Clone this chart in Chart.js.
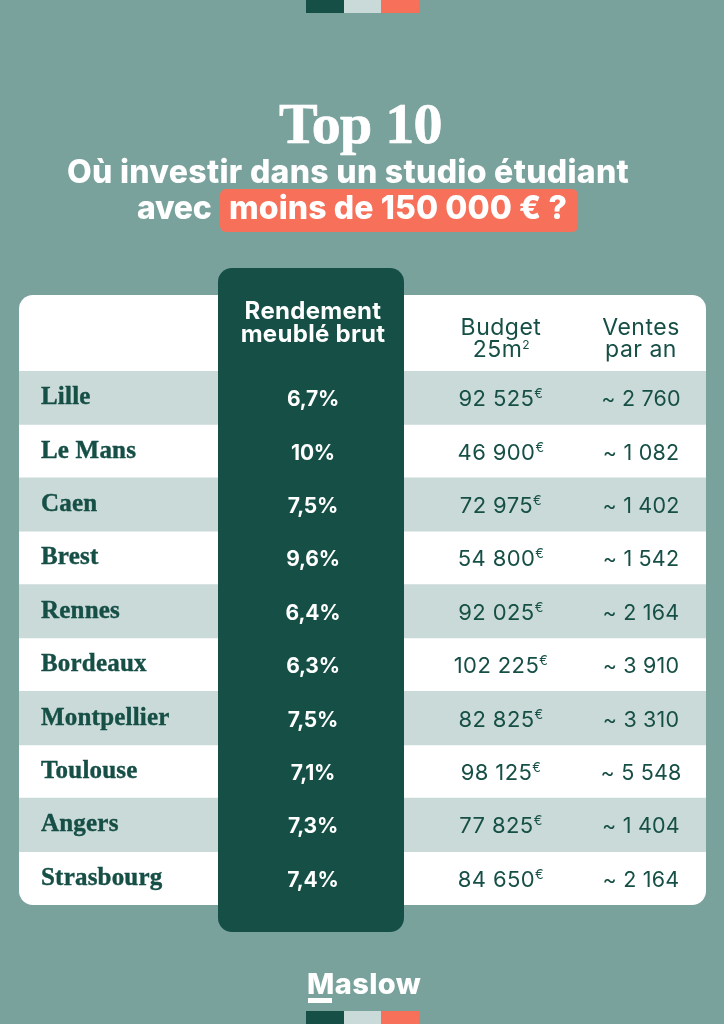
<!DOCTYPE html>
<html lang="fr"><head><meta charset="utf-8">
<style>
html,body{margin:0;padding:0;background:#7aa29d;width:724px;height:1024px;overflow:hidden}
#c{position:absolute;left:0;top:0}
.t{position:absolute;white-space:nowrap;color:#fff;line-height:1;font-family:Inter,sans-serif;font-weight:800}
.s{position:absolute;height:13px}
.box{position:absolute;left:220px;top:189px;width:358px;height:43px;border-radius:6px;background:#f6705a}
</style>
<script src="https://cdn.jsdelivr.net/npm/chart.js@4"></script>
</head><body>
<canvas id="c" width="724" height="1024"></canvas>
<div class="s" style="left:306px;top:0;width:38px;background:#164f46"></div>
<div class="s" style="left:344px;top:0;width:37px;background:#c9dad8"></div>
<div class="s" style="left:381px;top:0;width:38px;background:#f6705a"></div>
<div class="s" style="left:306px;top:1011px;width:38px;background:#164f46"></div>
<div class="s" style="left:344px;top:1011px;width:37px;background:#c9dad8"></div>
<div class="s" style="left:381px;top:1011px;width:38px;background:#f6705a"></div>
<div class="box"></div>
<div class="t" style="left:279px;top:95px;font:700 58px/1 'Liberation Serif',serif;letter-spacing:-.7px;-webkit-text-stroke:.7px #fff">Top 10</div>
<div class="t" style="left:67px;top:156px;font-size:32px;letter-spacing:.3px">Où investir dans un studio étudiant</div>
<div class="t" style="left:137px;top:192px;font-size:32px;letter-spacing:-.3px">avec</div>
<div class="t" style="left:229px;top:192px;font-size:32px;letter-spacing:.1px">moins de 150 000 € ?</div>
<div class="t" style="left:307px;top:969px;font-size:29px;font-weight:800;letter-spacing:.4px">Maslow</div>
<div class="s" style="left:308px;top:998px;width:24px;height:5px;background:#fff"></div>
<script>
const cities=["Lille","Le Mans","Caen","Brest","Rennes","Bordeaux","Montpellier","Toulouse","Angers","Strasbourg"];
const yields=[6.7,10,7.5,9.6,6.4,6.3,7.5,7.1,7.3,7.4];
const budgets=[92525,46900,72975,54800,92025,102225,82825,98125,77825,84650];
const sales=[2760,1082,1402,1542,2164,3910,3310,5548,1404,2164];
const headYield=["Rendement","meublé brut"];
const headBudget=["Budget","25m"];
const headSales=["Ventes","par an"];

const DARK="#164f46",LIGHT="#c9dad8";
const SANS="Inter, sans-serif";
const group=n=>String(n).replace(/\B(?=(\d{3})+$)/g,"\u00a0");
const pct=v=>String(v).replace(".",",")+"%";

const tablePlugin={
 id:"table",
 beforeDatasetsDraw(ch){
  const {ctx,chartArea:a}=ch;
  ctx.save();ctx.fillStyle="#fff";
  ctx.beginPath();ctx.roundRect(a.left,295,a.right-a.left,a.bottom-295,14);ctx.fill();
  ctx.restore();
 },
 afterDatasetsDraw(ch){
  const {ctx,scales:{x,y}}=ch;
  const cx=[x.getPixelForValue(294),x.getPixelForValue(482),x.getPixelForValue(622)];
  ctx.save();
  ctx.fillStyle=DARK;
  ctx.beginPath();ctx.roundRect(x.getPixelForValue(199),268,186,664,14);ctx.fill();
  ctx.textBaseline="alphabetic";ctx.textAlign="center";
  ctx.fillStyle="#fff";ctx.font="700 24px "+SANS;ctx.letterSpacing="0.3px";
  ctx.fillText(headYield[0],cx[0],319);ctx.fillText(headYield[1],cx[0],342);
  ctx.fillStyle=DARK;ctx.font="400 23px "+SANS;ctx.letterSpacing="0.5px";
  ctx.fillText(headBudget[0],cx[1],335);
  ctx.fillText(headSales[0],cx[2],335);ctx.fillText(headSales[1],cx[2],357);
  ctx.textAlign="left";
  const w25=ctx.measureText(headBudget[1]).width;
  const bx=cx[1]-(w25+7)/2;
  ctx.fillText(headBudget[1],bx,357);
  ctx.font="400 12px "+SANS;ctx.fillText("2",bx+w25,349);
  cities.forEach((c,i)=>{
   const py=y.getPixelForValue(i);
   ctx.textAlign="left";
   ctx.fillStyle=DARK;ctx.strokeStyle=DARK;ctx.lineWidth=0.4;
   ctx.font="700 25px 'Liberation Serif', serif";ctx.letterSpacing="0.2px";
   ctx.fillText(y.getLabelForValue(i),x.getPixelForValue(22),py+6.5);
   ctx.strokeText(y.getLabelForValue(i),x.getPixelForValue(22),py+6.5);
   ctx.textAlign="center";
   ctx.fillStyle="#fff";ctx.font="700 21px "+SANS;ctx.letterSpacing="-0.2px";
   ctx.fillText(pct(yields[i]),cx[0],py+8.5);
   ctx.fillStyle=DARK;ctx.font="400 21.5px "+SANS;ctx.letterSpacing="0.2px";
   ctx.fillText("~ "+group(sales[i]),cx[2],py+8.5);
   ctx.font="400 22px "+SANS;ctx.letterSpacing="0.4px";
   const s=group(budgets[i]);
   const w=ctx.measureText(s).width;
   ctx.font="400 13px "+SANS;const we=ctx.measureText("€").width;
   const sx=cx[1]-(w+we)/2;
   ctx.textAlign="left";ctx.fillText("€",sx+w,py+0.5);
   ctx.font="400 22px "+SANS;ctx.fillText(s,sx,py+8.5);
  });
  ctx.restore();
 }
};

new Chart(document.getElementById("c"),{
 type:"bar",
 plugins:[tablePlugin],
 data:{labels:cities,datasets:[{
  label:"Lignes",
  data:cities.map((c,i)=>i%2===0?[0,687]:null),
  backgroundColor:LIGHT,borderWidth:0,barPercentage:1,categoryPercentage:1,borderSkipped:false
 }]},
 options:{
  indexAxis:"y",responsive:false,animation:false,devicePixelRatio:1,
  layout:{padding:{left:19,right:18,top:371,bottom:119}},
  plugins:{legend:{display:false},tooltip:{enabled:false},title:{display:false}},
  scales:{
   x:{type:"linear",min:0,max:687,display:false},
   y:{type:"category",display:false}
  }
 }
});
</script>
</body></html>
